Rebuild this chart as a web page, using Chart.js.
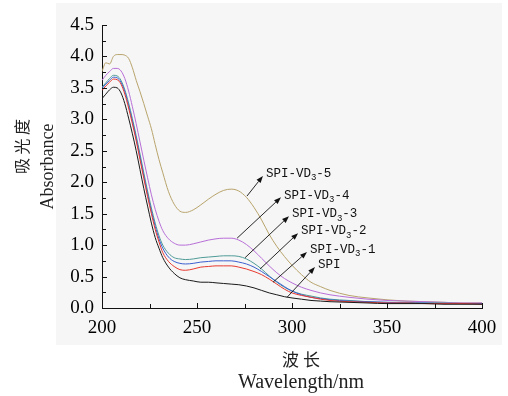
<!DOCTYPE html>
<html>
<head>
<meta charset="utf-8">
<script src="https://cdn.jsdelivr.net/npm/chart.js@4.4.1/dist/chart.umd.min.js"></script>
<style>
  html, body { margin: 0; padding: 0; background: #fff; }
  #wrap { width: 508px; height: 396px; }
</style>
</head>
<body>
<div id="wrap"><canvas id="uvChart" width="508" height="396"></canvas></div>
<script>
// wavelength (nm)
const wavelengths = [200, 202, 204, 206, 208, 210, 212, 214, 216, 218, 220, 222, 224, 226, 228, 230, 232,
  235, 238, 241, 244, 248, 252, 256, 260, 264, 268, 272, 276, 280, 284, 288, 292, 296, 300,
  305, 310, 315, 320, 330, 340, 350, 360, 370, 380, 390, 400];

// absorbance
const spi = [3.33, 3.40, 3.47, 3.51, 3.50, 3.42, 3.25, 3.02, 2.77, 2.50, 2.20, 1.90, 1.62, 1.35, 1.12, 0.95, 0.80,
  0.65, 0.55, 0.48, 0.45, 0.43, 0.41, 0.41, 0.40, 0.39, 0.38, 0.37, 0.35, 0.32, 0.28, 0.24, 0.21, 0.18, 0.16,
  0.14, 0.12, 0.11, 0.10, 0.09, 0.08, 0.07, 0.07, 0.07, 0.06, 0.06, 0.06];
const vd1 = [3.46, 3.53, 3.59, 3.64, 3.63, 3.56, 3.40, 3.18, 2.93, 2.66, 2.36, 2.06, 1.77, 1.50, 1.25, 1.05, 0.88,
  0.74, 0.66, 0.61, 0.60, 0.62, 0.65, 0.66, 0.67, 0.67, 0.67, 0.65, 0.62, 0.58, 0.53, 0.46, 0.38, 0.30, 0.24,
  0.20, 0.17, 0.14, 0.12, 0.10, 0.09, 0.08, 0.08, 0.07, 0.07, 0.07, 0.06];
const vd2 = [3.49, 3.56, 3.62, 3.67, 3.66, 3.59, 3.44, 3.22, 2.97, 2.70, 2.40, 2.10, 1.81, 1.54, 1.30, 1.10, 0.95,
  0.81, 0.74, 0.71, 0.70, 0.71, 0.73, 0.74, 0.75, 0.75, 0.75, 0.73, 0.70, 0.65, 0.58, 0.50, 0.42, 0.34, 0.27,
  0.21, 0.17, 0.15, 0.13, 0.11, 0.10, 0.09, 0.08, 0.08, 0.07, 0.07, 0.07];
const vd3 = [3.51, 3.58, 3.65, 3.70, 3.69, 3.62, 3.47, 3.26, 3.01, 2.74, 2.45, 2.15, 1.86, 1.59, 1.35, 1.15, 1.00,
  0.87, 0.80, 0.78, 0.77, 0.78, 0.80, 0.81, 0.82, 0.83, 0.83, 0.82, 0.78, 0.71, 0.62, 0.51, 0.41, 0.33, 0.27,
  0.22, 0.19, 0.16, 0.14, 0.12, 0.10, 0.09, 0.09, 0.08, 0.08, 0.07, 0.07];
const vd4 = [3.62, 3.70, 3.76, 3.81, 3.81, 3.77, 3.65, 3.45, 3.20, 2.93, 2.64, 2.35, 2.07, 1.80, 1.57, 1.38, 1.23,
  1.10, 1.03, 1.00, 1.00, 1.02, 1.05, 1.08, 1.10, 1.11, 1.11, 1.08, 1.01, 0.91, 0.79, 0.67, 0.56, 0.47, 0.40,
  0.33, 0.28, 0.24, 0.21, 0.17, 0.14, 0.12, 0.11, 0.10, 0.09, 0.08, 0.08];
const vd5 = [3.76, 3.90, 3.88, 4.00, 4.03, 4.03, 4.02, 3.97, 3.82, 3.62, 3.44, 3.25, 3.05, 2.85, 2.60, 2.36, 2.15,
  1.85, 1.65, 1.54, 1.52, 1.56, 1.64, 1.73, 1.81, 1.87, 1.89, 1.86, 1.76, 1.60, 1.40, 1.17, 0.98, 0.82, 0.68,
  0.53, 0.41, 0.34, 0.28, 0.20, 0.16, 0.13, 0.11, 0.10, 0.09, 0.08, 0.08];

const seriesNames = ["SPI", "SPI-VD3-1", "SPI-VD3-2", "SPI-VD3-3", "SPI-VD3-4", "SPI-VD3-5"];
const seriesValues = [spi, vd1, vd2, vd3, vd4, vd5];
const seriesColors = ["#1a1a1a", "#e8392f", "#3b5fcf", "#4f9c98", "#b86fd8", "#b8a46c"];

// label = [prefix, subscript, suffix]; tail sits on the curve, head points at the text (data units)
const labelParts = [["SPI", "", ""], ["SPI-VD", "3", "-1"], ["SPI-VD", "3", "-2"],
  ["SPI-VD", "3", "-3"], ["SPI-VD", "3", "-4"], ["SPI-VD", "3", "-5"]];
const arrowTails = [[297.4, 0.17], [290.0, 0.41], [283.2, 0.62], [275.3, 0.80], [271.1, 1.11], [276.3, 1.78]];
const arrowHeads = [[312.1, 0.65], [307.9, 0.89], [303.2, 1.19], [298.4, 1.46], [294.2, 1.76], [284.7, 2.10]];

const xTicks = { min: 200, max: 400, major: 50, minor: 25 };
const yTicks = { min: 0, max: 4.5, major: 0.5, minor: 0.25 };

// grey panel behind the figure
const panelBg = {
  id: "panelBg",
  beforeDraw(chart) {
    const c = chart.ctx;
    c.save();
    c.fillStyle = "#ffffff";
    c.fillRect(0, 0, chart.width, chart.height);
    c.fillStyle = "#f6f6f6";
    c.fillRect(56, 3, 446, 342);
    c.restore();
  }
};

// inward ticks (major + minor)
const innerTicks = {
  id: "innerTicks",
  afterDraw(chart) {
    const c = chart.ctx;
    const xs = chart.scales.x, ys = chart.scales.y;
    const a = chart.chartArea;
    c.save();
    c.strokeStyle = "#111";
    c.lineWidth = 1;
    c.beginPath();
    for (let v = xTicks.min; v <= xTicks.max + 1e-6; v += xTicks.minor) {
      const px = Math.round(xs.getPixelForValue(v)) + 0.5;
      const len = (Math.abs(v % xTicks.major) < 1e-6) ? 5 : 4;
      c.moveTo(px, a.bottom);
      c.lineTo(px, a.bottom - len);
    }
    for (let v = yTicks.min; v <= yTicks.max + 1e-6; v += yTicks.minor) {
      const py = Math.round(ys.getPixelForValue(v)) + 0.5;
      const r = v / yTicks.major;
      const len = (Math.abs(r - Math.round(r)) < 1e-6) ? 5 : 4;
      c.moveTo(a.left, py);
      c.lineTo(a.left + len, py);
    }
    c.stroke();
    c.restore();
  }
};

// arrows + curve labels
const curveLabels = {
  id: "curveLabels",
  afterDatasetsDraw(chart) {
    const c = chart.ctx;
    const xs = chart.scales.x, ys = chart.scales.y;
    c.save();
    c.strokeStyle = "#111";
    c.fillStyle = "#111";
    c.lineWidth = 0.9;
    for (let i = 0; i < labelParts.length; i++) {
      const tx = xs.getPixelForValue(arrowTails[i][0]), ty = ys.getPixelForValue(arrowTails[i][1]);
      const hx = xs.getPixelForValue(arrowHeads[i][0]), hy = ys.getPixelForValue(arrowHeads[i][1]);
      const ang = Math.atan2(hy - ty, hx - tx);
      const L = 7, W = 2.6;
      const bx = hx - L * Math.cos(ang), by = hy - L * Math.sin(ang);
      c.beginPath();
      c.moveTo(tx, ty);
      c.lineTo(bx, by);
      c.stroke();
      c.beginPath();
      c.moveTo(hx, hy);
      c.lineTo(bx + W * Math.sin(ang), by - W * Math.cos(ang));
      c.lineTo(bx - W * Math.sin(ang), by + W * Math.cos(ang));
      c.closePath();
      c.fill();

      // text
      const [pre, sub, post] = labelParts[i];
      let x = hx + 3;
      const y = hy - 2;
      c.textBaseline = "middle";
      c.textAlign = "left";
      c.font = "12.5px 'Liberation Mono'";
      c.fillText(pre, x, y);
      x += c.measureText(pre).width;
      if (sub) {
        c.font = "9px 'Liberation Mono'";
        c.fillText(sub, x, y + 4);
        x += c.measureText(sub).width;
        c.font = "12.5px 'Liberation Mono'";
      }
      c.fillText(post, x, y);
    }
    c.restore();
  }
};

// axis titles (Chinese + English lines)
const axisTitles = {
  id: "axisTitles",
  afterDraw(chart) {
    const c = chart.ctx;
    const a = chart.chartArea;
    const cx = (a.left + a.right) / 2 + 9;
    const cy = (a.top + a.bottom) / 2;
    c.save();
    c.fillStyle = "#222";
    c.textAlign = "center";
    c.textBaseline = "middle";
    c.font = "17px 'Noto Sans CJK SC'";
    c.fillText("波 长", cx, 360);
    c.font = "20px 'Liberation Serif'";
    c.fillText("Wavelength/nm", cx, 383);

    c.translate(22, cy - 20);
    c.rotate(-Math.PI / 2);
    c.font = "16px 'Noto Sans CJK SC'";
    c.fillText("吸 光 度", 0, 0);
    c.restore();

    c.save();
    c.fillStyle = "#222";
    c.textAlign = "center";
    c.textBaseline = "middle";
    c.translate(48, cy);
    c.rotate(-Math.PI / 2);
    c.font = "18px 'Liberation Serif'";
    c.fillText("Absorbance", 0, 0);
    c.restore();
  }
};

const datasets = seriesNames.map((name, i) => ({
  label: name,
  data: wavelengths.map((w, j) => ({ x: w, y: seriesValues[i][j] })),
  borderColor: seriesColors[i],
  borderWidth: 1,
  pointRadius: 0,
  fill: false,
  cubicInterpolationMode: "monotone"
}));

new Chart(document.getElementById("uvChart"), {
  type: "line",
  data: { datasets },
  plugins: [panelBg, innerTicks, curveLabels, axisTitles],
  options: {
    responsive: false,
    animation: false,
    devicePixelRatio: 1,
    layout: { padding: { top: 25, right: 26, left: 0, bottom: 0 } },
    plugins: { legend: { display: false }, tooltip: { enabled: false } },
    scales: {
      x: {
        type: "linear",
        min: xTicks.min,
        max: xTicks.max,
        afterFit: s => { s.height = 88; },
        grid: { display: false, drawTicks: false },
        border: { display: true, color: "#111", width: 1 },
        ticks: {
          stepSize: xTicks.major,
          padding: 9,
          color: "#000",
          font: { family: "'Liberation Serif'", size: 19 },
          callback: v => v.toFixed(0)
        }
      },
      y: {
        min: yTicks.min,
        max: yTicks.max,
        afterFit: s => { s.width = 102; },
        grid: { display: false, drawTicks: false },
        border: { display: true, color: "#111", width: 1 },
        ticks: {
          stepSize: yTicks.major,
          padding: 8,
          color: "#000",
          font: { family: "'Liberation Serif'", size: 19 },
          callback: v => v.toFixed(1)
        }
      }
    }
  }
});
</script>
</body>
</html>
